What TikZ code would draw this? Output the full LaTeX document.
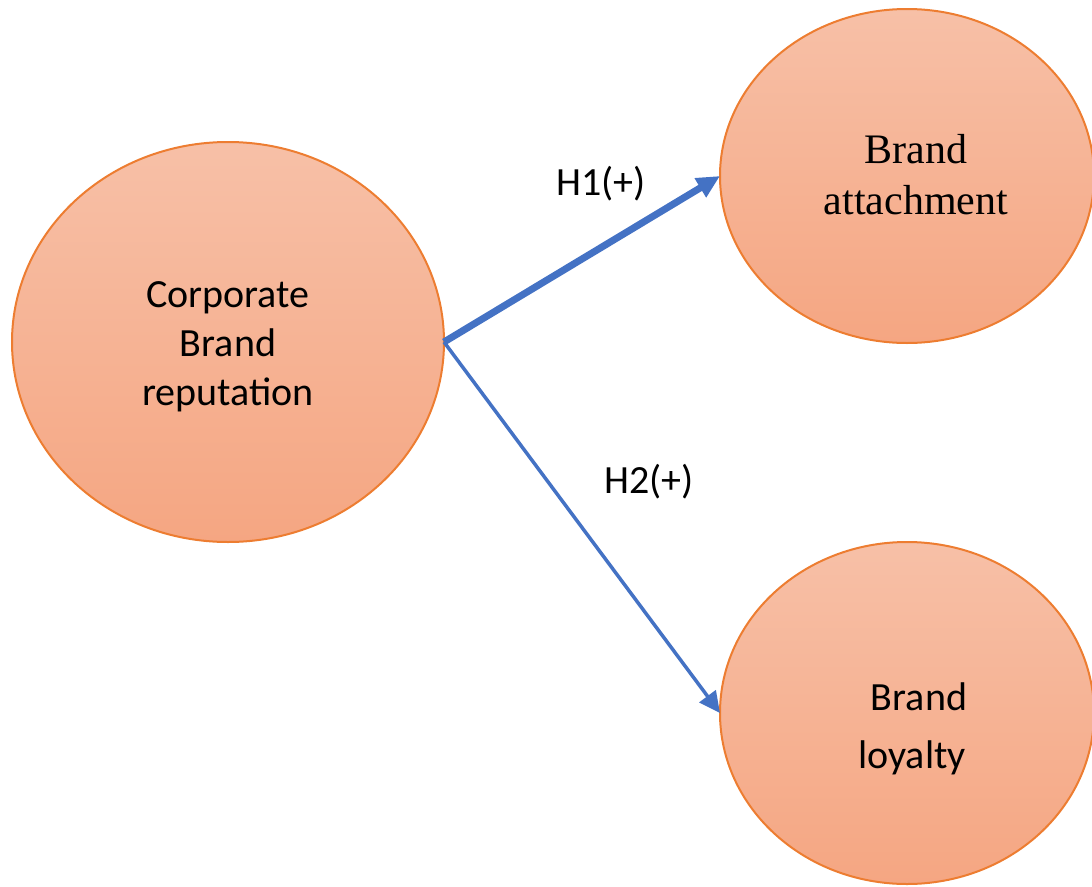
\documentclass[tikz,border=0pt]{standalone}
\usepackage{fontspec}
\setmainfont{Carlito}
\newfontfamily\timesfont{Liberation Serif}
\usetikzlibrary{arrows.meta,shapes.geometric}
\definecolor{ellfillA}{RGB}{247,192,167}
\definecolor{ellfillB}{RGB}{245,166,130}
\definecolor{ellline}{RGB}{237,125,49}
\definecolor{arrowblue}{RGB}{68,114,196}
\begin{document}
\begin{tikzpicture}[x=1pt,y=-1pt,
  bubble/.style={ellipse, draw=ellline, line width=2pt, top color=ellfillA, bottom color=ellfillB, inner sep=0pt, outer sep=0pt},
  calibritext/.style={font=\fontsize{40}{49}\selectfont, align=center, inner sep=0pt, text=black},
  timestext/.style={font=\timesfont\fontsize{42}{51}\selectfont, align=center, inner sep=0pt, text=black},
  thickarrow/.style={draw=arrowblue, line width=7pt, -{Triangle[length=23pt,width=21pt]}},
  thinarrow/.style={draw=arrowblue, line width=3.5pt, -{Triangle[length=21pt,width=20pt]}},
  hlabel/.style={font=\fontsize{40}{49}\selectfont, inner sep=0pt, anchor=base, text=black}]
\useasboundingbox (0,0) rectangle (1092,886);
\clip (0,0) rectangle (1092,886);
\node[bubble, minimum width=432pt, minimum height=400pt] (crbr) at (228,342) {};
\node[bubble, minimum width=374pt, minimum height=334pt] (batt) at (907,176) {};
\node[bubble, minimum width=374pt, minimum height=342pt] (bloy) at (907,713) {};
\node[calibritext] (crbrtext) at (228,347) {Corporate\\Brand\\reputation};
\node[timestext] (batttext) at (916,175) {Brand\\attachment};
\node[calibritext, font=\fontsize{40}{58}\selectfont] (bloytext) at (912,729) {\hspace*{14pt}Brand\\loyalty};
\draw[thickarrow] (crbr.east) -- (batt.west);
\draw[thinarrow] (crbr.east) -- (bloy.west);
\node[hlabel] (hone) at (601,195) {H1(+)};
\node[hlabel] (htwo) at (649,493) {H2(+)};
\end{tikzpicture}
\end{document}
